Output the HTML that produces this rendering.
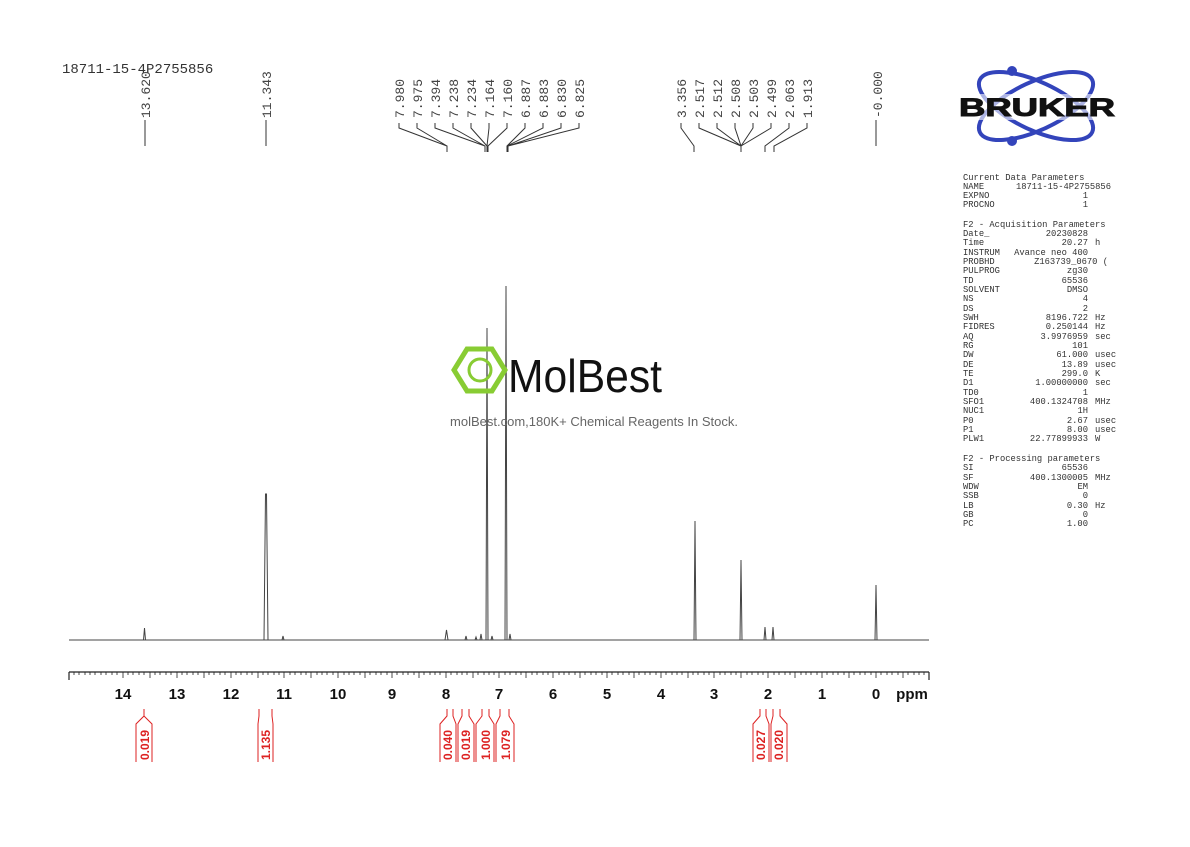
<!DOCTYPE html><html><head><style>body{margin:0;background:#fff}svg text{font-family:"Liberation Mono",monospace}</style></head><body>
<svg width="1190" height="842" xmlns="http://www.w3.org/2000/svg">
<text x="62" y="73" font-size="14" fill="#333">18711-15-4P2755856</text>
<g font-size="13" fill="#444">
<text transform="translate(150,118) rotate(-90)">13.620</text>
<text transform="translate(271,118) rotate(-90)">11.343</text>
<text transform="translate(404,118) rotate(-90)">7.980</text>
<text transform="translate(422,118) rotate(-90)">7.975</text>
<text transform="translate(440,118) rotate(-90)">7.394</text>
<text transform="translate(458,118) rotate(-90)">7.238</text>
<text transform="translate(476,118) rotate(-90)">7.234</text>
<text transform="translate(494,118) rotate(-90)">7.164</text>
<text transform="translate(512,118) rotate(-90)">7.160</text>
<text transform="translate(530,118) rotate(-90)">6.887</text>
<text transform="translate(548,118) rotate(-90)">6.883</text>
<text transform="translate(566,118) rotate(-90)">6.830</text>
<text transform="translate(584,118) rotate(-90)">6.825</text>
<text transform="translate(686,118) rotate(-90)">3.356</text>
<text transform="translate(704,118) rotate(-90)">2.517</text>
<text transform="translate(722,118) rotate(-90)">2.512</text>
<text transform="translate(740,118) rotate(-90)">2.508</text>
<text transform="translate(758,118) rotate(-90)">2.503</text>
<text transform="translate(776,118) rotate(-90)">2.499</text>
<text transform="translate(794,118) rotate(-90)">2.063</text>
<text transform="translate(812,118) rotate(-90)">1.913</text>
<text transform="translate(882,118) rotate(-90)">-0.000</text>
</g>
<g stroke="#333" fill="none" stroke-width="1">
<path d="M145 120V146M266 120V146M876 120V146"/>
<path d="M399 123V128L447 146V152M417 123V128L447 146V152M435 123V128L485 146V152M453 123V128L485 146V152M471 123V128L487 146V152M489 123V128L487 146V152M507 123V128L488 146V152M525 123V128L507 146V152M543 123V128L507 146V152M561 123V128L508 146V152M579 123V128L508 146V152"/>
<path d="M681 123V128L694 146V152M699 123V128L741 146V152M717 123V128L741 146V152M735 123V128L741 146V152M753 123V128L741 146V152M771 123V128L741 146V152M789 123V128L765 146V152M807 123V128L774 146V152"/>
</g>
<g stroke="#444" stroke-width="1" fill="none">
<path d="M69 640H929"/>
<path d="M143.5 640L144.5 628L145.5 640M264 640L265.5 494L266.5 494L268 640M282 640L283 636L284 640M445 640L446.5 630L448 640M465 640L466 636L467 640M475 640L476 637L477 640M480 640L481 634L482 640M486 640L487 328L488 640M491 640L492 636L493 640M505 640L506 286L507 640M509 640L510 634L511 640M694 640L695 521L696 640M740 640L741 560L742 640M764 640L765 627L766 640M772 640L773 627L774 640M875 640L876 585L877 640"/>
</g>
<g stroke="#222" stroke-width="1.2">
<path d="M69 672H929M69 672V680M929 672V680"/>
</g>
<g font-weight="bold" font-size="15" fill="#111" text-anchor="middle">
<text x="123" y="699" style="font-family:'Liberation Sans',sans-serif">14</text>
<text x="177" y="699" style="font-family:'Liberation Sans',sans-serif">13</text>
<text x="231" y="699" style="font-family:'Liberation Sans',sans-serif">12</text>
<text x="284" y="699" style="font-family:'Liberation Sans',sans-serif">11</text>
<text x="338" y="699" style="font-family:'Liberation Sans',sans-serif">10</text>
<text x="392" y="699" style="font-family:'Liberation Sans',sans-serif">9</text>
<text x="446" y="699" style="font-family:'Liberation Sans',sans-serif">8</text>
<text x="499" y="699" style="font-family:'Liberation Sans',sans-serif">7</text>
<text x="553" y="699" style="font-family:'Liberation Sans',sans-serif">6</text>
<text x="607" y="699" style="font-family:'Liberation Sans',sans-serif">5</text>
<text x="661" y="699" style="font-family:'Liberation Sans',sans-serif">4</text>
<text x="714" y="699" style="font-family:'Liberation Sans',sans-serif">3</text>
<text x="768" y="699" style="font-family:'Liberation Sans',sans-serif">2</text>
<text x="822" y="699" style="font-family:'Liberation Sans',sans-serif">1</text>
<text x="876" y="699" style="font-family:'Liberation Sans',sans-serif">0</text>
<text x="912" y="699" style="font-family:'Liberation Sans',sans-serif">ppm</text>
</g>
<g stroke="#d22" fill="none" stroke-width="1">
<path d="M144 709V716L136 724V762M144 716L152 724V762"/>
<path d="M259 709V716L258 724V762M272 709V716L273 724V762"/>
<path d="M447 709V716L440 724V762M453 709V716L456 724V762M462 709V716L458 724V762M469 709V716L474 724V762M482 709V716L476 724V762M489 709V716L494 724V762M500 709V716L496 724V762M509 709V716L514 724V762"/>
<path d="M760 709V716L753 724V762M766 709V716L769 724V762M773 709V716L771 724V762M780 709V716L787 724V762"/>
</g>
<g fill="#d22" font-size="12" font-weight="bold">
<text transform="translate(149,760) rotate(-90)" style="font-family:'Liberation Sans',sans-serif">0.019</text>
<text transform="translate(270,760) rotate(-90)" style="font-family:'Liberation Sans',sans-serif">1.135</text>
<text transform="translate(452,760) rotate(-90)" style="font-family:'Liberation Sans',sans-serif">0.040</text>
<text transform="translate(470,760) rotate(-90)" style="font-family:'Liberation Sans',sans-serif">0.019</text>
<text transform="translate(490,760) rotate(-90)" style="font-family:'Liberation Sans',sans-serif">1.000</text>
<text transform="translate(510,760) rotate(-90)" style="font-family:'Liberation Sans',sans-serif">1.079</text>
<text transform="translate(765,760) rotate(-90)" style="font-family:'Liberation Sans',sans-serif">0.027</text>
<text transform="translate(783,760) rotate(-90)" style="font-family:'Liberation Sans',sans-serif">0.020</text>
</g>
<g>
<polygon points="467,349 492,349 505,370 492,391 467,391 454,370" fill="none" stroke="#8c3" stroke-width="5"/>
<circle cx="480" cy="370" r="11" fill="none" stroke="#8c3" stroke-width="3"/>
<text x="508" y="392" font-size="46" fill="#111" style="font-family:'Liberation Sans',sans-serif" textLength="154" lengthAdjust="spacingAndGlyphs">MolBest</text>
<text x="594" y="426" font-size="13" fill="#666" text-anchor="middle" style="font-family:'Liberation Sans',sans-serif">molBest.com,180K+ Chemical Reagents In Stock.</text>
</g>
<g fill="none" stroke="#34b" stroke-width="4">
<ellipse cx="1036" cy="106" rx="62" ry="24" transform="rotate(25 1036 106)"/>
<ellipse cx="1036" cy="106" rx="62" ry="24" transform="rotate(-25 1036 106)"/>
</g>
<circle cx="1012" cy="71" r="5" fill="#34b"/><circle cx="1012" cy="141" r="5" fill="#34b"/>
<rect x="958" y="94" width="158" height="26" fill="#fff" opacity="0.6"/>
<text x="1037" y="116" font-size="25" font-weight="900" text-anchor="middle" fill="#111" style="font-family:'Liberation Sans',sans-serif" textLength="156" lengthAdjust="spacingAndGlyphs" stroke="#111" stroke-width="1">BRUKER</text>
<g font-size="8.8" fill="#333">
<text x="963" y="180">Current Data Parameters</text>
<text x="963" y="189">NAME</text><text x="1111" y="189" text-anchor="end">18711-15-4P2755856</text>
<text x="963" y="198">EXPNO</text><text x="1088" y="198" text-anchor="end">1</text>
<text x="963" y="207">PROCNO</text><text x="1088" y="207" text-anchor="end">1</text>
<text x="963" y="227">F2 - Acquisition Parameters</text>
<text x="963" y="236">Date_</text><text x="1088" y="236" text-anchor="end">20230828</text>
<text x="963" y="245">Time</text><text x="1088" y="245" text-anchor="end">20.27</text><text x="1095" y="245">h</text>
<text x="963" y="255">INSTRUM</text><text x="1088" y="255" text-anchor="end">Avance neo 400</text>
<text x="963" y="264">PROBHD</text><text x="1108" y="264" text-anchor="end">Z163739_0670 (</text>
<text x="963" y="273">PULPROG</text><text x="1088" y="273" text-anchor="end">zg30</text>
<text x="963" y="283">TD</text><text x="1088" y="283" text-anchor="end">65536</text>
<text x="963" y="292">SOLVENT</text><text x="1088" y="292" text-anchor="end">DMSO</text>
<text x="963" y="301">NS</text><text x="1088" y="301" text-anchor="end">4</text>
<text x="963" y="311">DS</text><text x="1088" y="311" text-anchor="end">2</text>
<text x="963" y="320">SWH</text><text x="1088" y="320" text-anchor="end">8196.722</text><text x="1095" y="320">Hz</text>
<text x="963" y="329">FIDRES</text><text x="1088" y="329" text-anchor="end">0.250144</text><text x="1095" y="329">Hz</text>
<text x="963" y="339">AQ</text><text x="1088" y="339" text-anchor="end">3.9976959</text><text x="1095" y="339">sec</text>
<text x="963" y="348">RG</text><text x="1088" y="348" text-anchor="end">101</text>
<text x="963" y="357">DW</text><text x="1088" y="357" text-anchor="end">61.000</text><text x="1095" y="357">usec</text>
<text x="963" y="367">DE</text><text x="1088" y="367" text-anchor="end">13.89</text><text x="1095" y="367">usec</text>
<text x="963" y="376">TE</text><text x="1088" y="376" text-anchor="end">299.0</text><text x="1095" y="376">K</text>
<text x="963" y="385">D1</text><text x="1088" y="385" text-anchor="end">1.00000000</text><text x="1095" y="385">sec</text>
<text x="963" y="395">TD0</text><text x="1088" y="395" text-anchor="end">1</text>
<text x="963" y="404">SFO1</text><text x="1088" y="404" text-anchor="end">400.1324708</text><text x="1095" y="404">MHz</text>
<text x="963" y="413">NUC1</text><text x="1088" y="413" text-anchor="end">1H</text>
<text x="963" y="423">P0</text><text x="1088" y="423" text-anchor="end">2.67</text><text x="1095" y="423">usec</text>
<text x="963" y="432">P1</text><text x="1088" y="432" text-anchor="end">8.00</text><text x="1095" y="432">usec</text>
<text x="963" y="441">PLW1</text><text x="1088" y="441" text-anchor="end">22.77899933</text><text x="1095" y="441">W</text>
<text x="963" y="461">F2 - Processing parameters</text>
<text x="963" y="470">SI</text><text x="1088" y="470" text-anchor="end">65536</text>
<text x="963" y="480">SF</text><text x="1088" y="480" text-anchor="end">400.1300005</text><text x="1095" y="480">MHz</text>
<text x="963" y="489">WDW</text><text x="1088" y="489" text-anchor="end">EM</text>
<text x="963" y="498">SSB</text><text x="1088" y="498" text-anchor="end">0</text>
<text x="963" y="508">LB</text><text x="1088" y="508" text-anchor="end">0.30</text><text x="1095" y="508">Hz</text>
<text x="963" y="517">GB</text><text x="1088" y="517" text-anchor="end">0</text>
<text x="963" y="526">PC</text><text x="1088" y="526" text-anchor="end">1.00</text>
</g>
<path stroke="#222" stroke-width="0.8" d="M74 672v3M79 672v3M85 672v3M90 672v3M95 672v3M101 672v3M106 672v3M112 672v3M117 672v3M123 672v6M128 672v3M133 672v3M139 672v3M144 672v3M150 672v6M155 672v3M160 672v3M166 672v3M171 672v3M177 672v6M182 672v3M187 672v3M193 672v3M198 672v3M204 672v6M209 672v3M214 672v3M220 672v3M225 672v3M231 672v6M236 672v3M241 672v3M247 672v3M252 672v3M258 672v6M263 672v3M268 672v3M274 672v3M279 672v3M284 672v6M290 672v3M295 672v3M301 672v3M306 672v3M311 672v6M317 672v3M322 672v3M327 672v3M333 672v3M338 672v6M344 672v3M349 672v3M354 672v3M360 672v3M365 672v6M370 672v3M376 672v3M381 672v3M387 672v3M392 672v6M397 672v3M403 672v3M408 672v3M414 672v3M419 672v6M424 672v3M430 672v3M435 672v3M440 672v3M446 672v6M451 672v3M457 672v3M462 672v3M467 672v3M473 672v6M478 672v3M484 672v3M489 672v3M494 672v3M499 672v6M505 672v3M510 672v3M516 672v3M521 672v3M526 672v6M532 672v3M537 672v3M543 672v3M548 672v3M553 672v6M559 672v3M564 672v3M569 672v3M575 672v3M580 672v6M585 672v3M591 672v3M596 672v3M602 672v3M607 672v6M612 672v3M618 672v3M623 672v3M629 672v3M634 672v6M639 672v3M645 672v3M650 672v3M656 672v3M661 672v6M666 672v3M672 672v3M677 672v3M682 672v3M688 672v6M693 672v3M698 672v3M704 672v3M709 672v3M714 672v6M720 672v3M725 672v3M731 672v3M736 672v3M741 672v6M747 672v3M752 672v3M758 672v3M763 672v3M768 672v6M774 672v3M779 672v3M785 672v3M790 672v3M795 672v6M801 672v3M806 672v3M811 672v3M817 672v3M822 672v6M827 672v3M833 672v3M838 672v3M844 672v3M849 672v6M854 672v3M860 672v3M865 672v3M871 672v3M876 672v6M881 672v3M887 672v3M892 672v3M898 672v3M903 672v6M908 672v3M914 672v3M919 672v3M924 672v3"/>
</svg>
</body></html>
